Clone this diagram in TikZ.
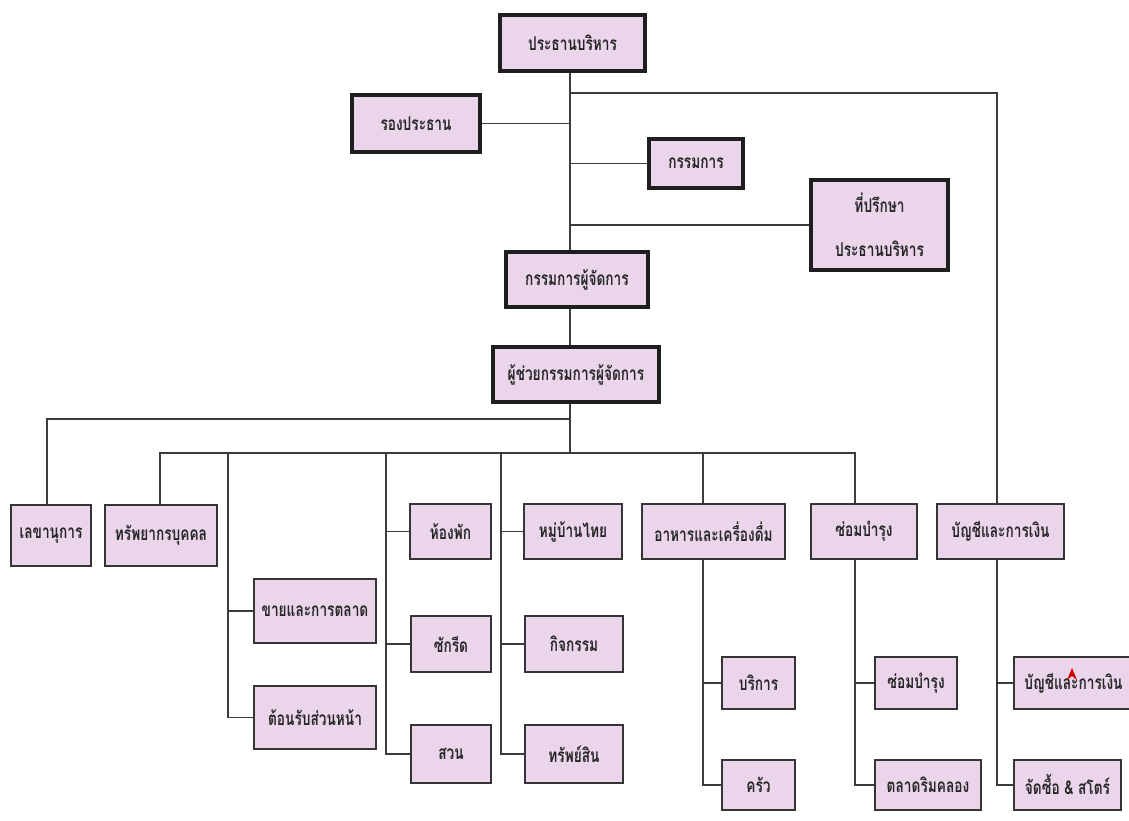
\documentclass[tikz,border=0pt]{standalone}
\usepackage{fontspec}
\newfontfamily\thaifont[Script=Thai,FakeStretch=0.72]{Loma}
\usetikzlibrary{calc}
\definecolor{boxfill}{HTML}{EAD5EA}
\definecolor{edge}{HTML}{1E1E1E}
\definecolor{wirec}{HTML}{3C3C3C}
\tikzset{
  base/.style={rectangle, fill=boxfill, inner sep=0pt, align=center,
    font=\thaifont\bfseries\fontsize{19}{22}\selectfont, text=black!85},
  headbox/.style={base, draw=edge, line width=4.2pt},
  unitbox/.style={base, draw=edge!90, line width=2pt},
  wire/.style={draw=wirec, line width=1.6pt}
}
\begin{document}
\begin{tikzpicture}[x=1pt,y=-1pt]
\useasboundingbox[fill=white] (0,0) rectangle (1129,820);

% top management
\node[headbox, minimum width=145pt, minimum height=56pt] (pres) at (572.5,43) {ประธานบริหาร};
\node[headbox, minimum width=128pt, minimum height=57pt] (vp) at (416,123.5) {รองประธาน};
\node[headbox, minimum width=94pt, minimum height=49pt] (dir) at (696,163.5) {กรรมการ};
\node[headbox, minimum width=137pt, minimum height=90pt] (adv) at (879.5,225) {ที่ปรึกษา\\[22pt]ประธานบริหาร};
\node[headbox, minimum width=142pt, minimum height=55pt] (md) at (577,279.5) {กรรมการผู้จัดการ};
\node[headbox, minimum width=166pt, minimum height=55pt] (amd) at (576,374.5) {ผู้ช่วยกรรมการผู้จัดการ};

% first row
\node[unitbox, minimum width=80pt, minimum height=61pt] (sec) at (51,535.5) {เลขานุการ};
\node[unitbox, minimum width=112pt, minimum height=61pt] (hr) at (161,535.5) {ทรัพยากรบุคคล};
\node[unitbox, minimum width=81pt, minimum height=55pt] (room) at (450.5,531.5) {ห้องพัก};
\node[unitbox, minimum width=98pt, minimum height=55pt] (vil) at (573,531.5) {หมู่บ้านไทย};
\node[unitbox, minimum width=143pt, minimum height=55pt] (fb) at (713.5,531.5) {อาหารและเครื่องดื่ม};
\node[unitbox, minimum width=106pt, minimum height=55pt] (mnt) at (864,531.5) {ซ่อมบำรุง};
\node[unitbox, minimum width=127pt, minimum height=55pt] (acc) at (1000.5,531.5) {บัญชีและการเงิน};

% lower rows
\node[unitbox, minimum width=122pt, minimum height=64pt] (sales) at (315,611) {ขายและการตลาด};
\node[unitbox, minimum width=122pt, minimum height=63pt] (front) at (315,717.5) {ต้อนรับส่วนหน้า};
\node[unitbox, minimum width=80pt, minimum height=56pt] (laundry) at (451,644) {ซักรีด};
\node[unitbox, minimum width=80pt, minimum height=58pt] (garden) at (451,754) {สวน};
\node[unitbox, minimum width=98pt, minimum height=56pt] (act) at (574,644) {กิจกรรม};
\node[unitbox, minimum width=98pt, minimum height=58pt] (prop) at (574,754) {ทรัพย์สิน};
\node[unitbox, minimum width=73pt, minimum height=52pt] (serv) at (758.5,683) {บริการ};
\node[unitbox, minimum width=73pt, minimum height=50pt] (kitchen) at (758.5,785) {ครัว};
\node[unitbox, minimum width=82pt, minimum height=52pt] (mnt2) at (916,683) {ซ่อมบำรุง};
\node[unitbox, minimum width=106pt, minimum height=50pt] (market) at (928,785) {ตลาดริมคลอง};
\node[unitbox, minimum width=119pt, minimum height=52pt] (acc2) at (1073.5,683) {บัญชีและการเงิน};
\node[unitbox, minimum width=107pt, minimum height=50pt] (purch) at (1067.5,785) {จัดซื้อ \& สโตร์};

% junction coordinates
\coordinate (tx) at (570,0);
\coordinate (rx) at (997,0);
\coordinate (j1) at (570,93);
\coordinate (h1) at (570,419);
\coordinate (h2) at (570,453);
\coordinate (c0) at (160,453);
\coordinate (c1) at (228,453);
\coordinate (c2) at (386,453);
\coordinate (c3) at (501,453);
\coordinate (c4) at (703,453);
\coordinate (c5) at (855,453);
\coordinate (sx) at (47,0);

% connectors
\draw[wire] (tx |- pres.south) -- (tx |- md.north);
\draw[wire] (j1) -| (rx |- acc.north);
\draw[wire] (vp.east) -- (tx |- vp.east);
\draw[wire] (dir.west) -- (tx |- dir.west);
\draw[wire] (adv.west) -- (tx |- adv.west);
\draw[wire] (tx |- md.south) -- (tx |- amd.north);
\draw[wire] (tx |- amd.south) -- (h2);
\draw[wire] (h1) -| (sx |- sec.north);
\draw[wire] (c0 |- hr.north) -- (c0) -- (c5) -- (c5 |- mnt.north);
\draw[wire] (c4) -- (c4 |- fb.north);
\draw[wire] (c1) |- (front.west);
\draw[wire] (sales.west) -- (c1 |- sales.west);
\draw[wire] (c2) |- (garden.west);
\draw[wire] (room.west) -- (c2 |- room.west);
\draw[wire] (laundry.west) -- (c2 |- laundry.west);
\draw[wire] (c3) |- (prop.west);
\draw[wire] (vil.west) -- (c3 |- vil.west);
\draw[wire] (act.west) -- (c3 |- act.west);
\draw[wire] (c4 |- fb.south) |- (kitchen.west);
\draw[wire] (serv.west) -- (c4 |- serv.west);
\draw[wire] (c5 |- mnt.south) |- (market.west);
\draw[wire] (mnt2.west) -- (c5 |- mnt2.west);
\draw[wire] (rx |- acc.south) |- (purch.west);
\draw[wire] (acc2.west) -- (rx |- acc2.west);

% red mark
\fill[red!80!black] (1072,668) -- (1077,680) -- (1072,676) -- (1067,680) -- cycle;
\end{tikzpicture}
\end{document}
